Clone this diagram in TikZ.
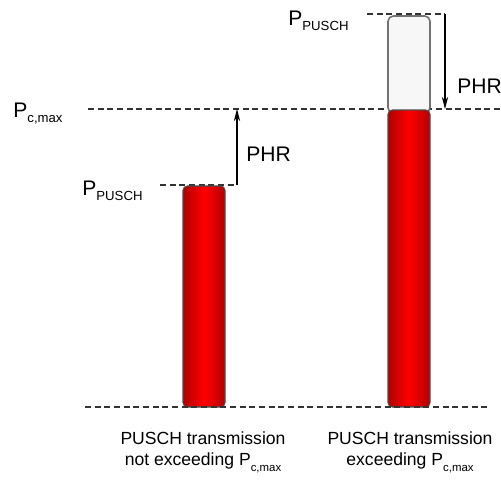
\documentclass[tikz,border=0pt]{standalone}
\usepackage{fontspec}
\setmainfont{Liberation Sans}
\usetikzlibrary{arrows.meta}

% power symbol with a lowered index
\newcommand{\powr}[2][7.5]{P\raisebox{-3pt}{\fontsize{#1}{9}\selectfont #2}}

\tikzset{
  level/.style={dash pattern=on 3.5pt off 2pt, line width=0.8pt, black!80},
  phr/.style={-{Stealth[length=7pt,width=3.6pt]}, line width=0.6pt},
  bar/.style={draw=black!70, line width=0.6pt, rounded corners=2.5pt,
    left color=red!70!black, right color=red!70!black, middle color=red},
  room/.style={draw=black!55, fill=gray!6, line width=0.9pt, rounded corners=3pt},
  lbl/.style={font=\fontsize{12}{14}\selectfont, inner sep=0pt, anchor=base west},
  caption/.style={font=\fontsize{10}{12.5}\selectfont, align=center, inner sep=0pt}
}

\begin{document}
\begin{tikzpicture}[x=0.02cm,y=-0.02cm]
  \useasboundingbox (0,0) rectangle (501,484);
  \coordinate (maxL) at (88,109); \coordinate (maxR) at (500,109);
  \coordinate (lowL) at (160,185); \coordinate (lowR) at (237,185);
  \coordinate (topL) at (367,14); \coordinate (topR) at (445,14);
  \coordinate (baseL) at (85,407); \coordinate (baseR) at (490,407);
  % levels
  \draw[level] (maxL) -- (maxR);
  \draw[level] (lowL) -- (lowR);
  \draw[level] (topL) -- (topR);
  % bars
  \draw[bar] (183,407) rectangle (225,186);
  \draw[room] (388,113) rectangle (430,16);
  \draw[bar] (388,407) rectangle (430,110);
  \draw[level] (baseL) -- (baseR);
  % headroom arrows
  \draw[phr] (lowR) -- (lowR |- maxL);
  \draw[phr] (topR) -- (topR |- maxL);
  % labels
  \node[lbl] (pmax) at (13,117) {\powr{c,max}};
  \node[lbl] (plow) at (82,195) {\powr{PUSCH}};
  \node[lbl] (ptop) at (288,25) {\powr{PUSCH}};
  \node[lbl] (phrL) at (246,161) {PHR};
  \node[lbl] (phrR) at (457,93) {PHR};
  \node[caption] (capL) at (203,452) {PUSCH transmission\\not exceeding \powr[6.5]{c,max}};
  \node[caption] (capR) at (410,452) {PUSCH transmission\\exceeding \powr[6.5]{c,max}};
\end{tikzpicture}
\end{document}
